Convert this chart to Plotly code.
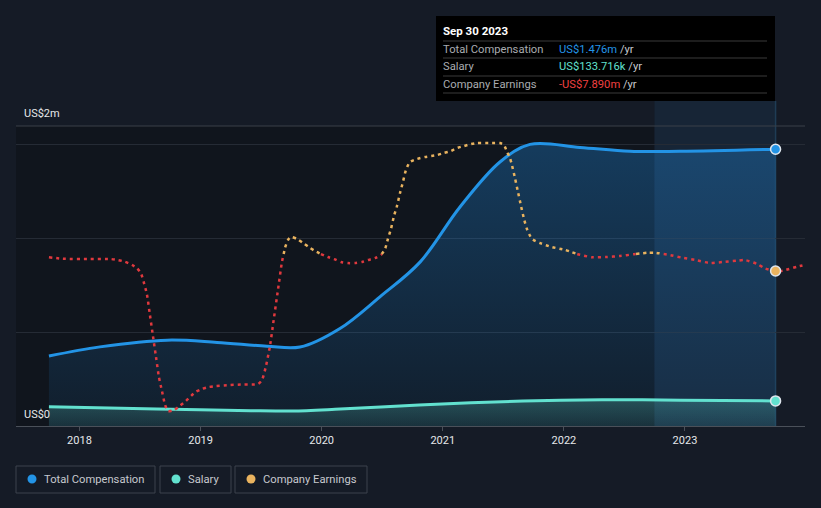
import plotly.graph_objects as go

# ---------------- data ----------------
# x positions are decimal years
comp_t = [2017.748, 2018.169, 2018.723, 2019.136, 2019.548, 2019.821, 2020.151,
          2020.481, 2020.812, 2021.142, 2021.472, 2021.720, 2022.133, 2022.546,
          2022.959, 2023.748]
comp_v = [0.373, 0.422, 0.458, 0.446, 0.426, 0.421, 0.520,
          0.689, 0.874, 1.168, 1.408, 1.502, 1.486, 1.465,
          1.465, 1.476]  # US$m

salary_t = [2017.748, 2018.640, 2019.416, 2019.763, 2020.110, 2020.804, 2021.663,
            2022.315, 2022.967, 2023.748]
salary_v = [0.103, 0.091, 0.082, 0.080, 0.089, 0.112, 0.133, 0.140, 0.138, 0.1337]  # US$m

earn_t = [2017.748, 2017.864, 2018.087, 2018.252, 2018.318, 2018.376, 2018.434, 2018.475,
          2018.508, 2018.533, 2018.557, 2018.582, 2018.607, 2018.632, 2018.656, 2018.681,
          2018.706, 2018.731, 2018.780, 2018.830, 2018.879, 2018.921, 2018.962, 2019.012,
          2019.069, 2019.127, 2019.243, 2019.358, 2019.474, 2019.507, 2019.540, 2019.573,
          2019.606, 2019.639, 2019.672, 2019.697, 2019.722, 2019.747, 2019.796, 2019.846,
          2019.895, 2019.945, 2019.994, 2020.052, 2020.102, 2020.159, 2020.217, 2020.275,
          2020.333, 2020.382, 2020.440, 2020.490, 2020.523, 2020.547, 2020.572, 2020.597,
          2020.622, 2020.647, 2020.671, 2020.696, 2020.729, 2020.787, 2020.853, 2020.952,
          2021.010, 2021.068, 2021.117, 2021.175, 2021.233, 2021.282, 2021.406, 2021.472,
          2021.505, 2021.530, 2021.555, 2021.571, 2021.596, 2021.621, 2021.646, 2021.671,
          2021.695, 2021.737, 2021.803, 2021.902, 2022.009, 2022.116, 2022.232, 2022.348,
          2022.463, 2022.579, 2022.694, 2022.752, 2022.860, 2022.975, 2023.091, 2023.206,
          2023.314, 2023.429, 2023.495, 2023.595, 2023.661, 2023.748, 2023.809, 2023.925,
          2024.000]
earn_v = [-1.5, -2.2, -2.3, -2.3, -2.8, -3.6, -5.0, -6.6,
          -9.0, -13.5, -18.7, -28.3, -38.1, -47.7, -57.0, -63.5,
          -69.8, -72.9, -72.4, -70.4, -68.2, -65.9, -63.9, -62.6,
          -61.7, -61.3, -60.8, -60.5, -60.3, -58.5, -52.0, -42.7,
          -29.7, -16.7, -3.7, 2.8, 6.5, 7.9, 7.0, 5.1,
          3.2, 1.4, 0.0, -1.4, -2.3, -3.7, -4.2, -4.2,
          -3.7, -2.8, -1.9, -0.5, 2.3, 7.0, 11.6, 17.6,
          22.3, 28.3, 33.4, 39.0, 42.7, 44.1, 45.0, 45.9,
          46.9, 47.8, 49.2, 50.1, 51.0, 51.5, 51.5, 51.5,
          50.6, 47.5, 44.5, 41.3, 35.3, 28.8, 22.3, 16.2,
          11.6, 7.0, 5.1, 3.2, 1.9, -0.1, -1.5, -1.4,
          -0.9, -0.1, 0.6, 0.6, -0.3, -1.7, -2.8, -4.2,
          -3.7, -3.1, -2.8, -4.6, -6.7, -7.89, -7.7, -5.9,
          -4.9]  # US$m

tick_years = [2018, 2019, 2020, 2021, 2022, 2023]
tick_labels = ["2018", "2019", "2020", "2021", "2022", "2023"]

last_t = 2023.748
band_start = 2022.748
tooltip_date = "Sep 30 2023"
tooltip_comp = "US$1.476m"
tooltip_salary = "US$133.716k"
tooltip_earn = "-US$7.890m"

# ---------------- styling ----------------
BG = "#151b26"
BLUE = "#2394e6"
TEAL = "#62e1cf"
ORANGE = "#e9b35f"
RED = "#e0393e"
FONT = "Roboto"
FS = 11.2


def split_sign(xs, ys):
    px, pyv, nx, nyv = [], [], [], []
    for i in range(len(xs)):
        if i > 0 and (ys[i - 1] >= 0) != (ys[i] >= 0):
            t = ys[i - 1] / (ys[i - 1] - ys[i])
            xc = xs[i - 1] + t * (xs[i] - xs[i - 1])
            px.append(xc); pyv.append(0.0)
            nx.append(xc); nyv.append(0.0)
            if ys[i] >= 0:
                nx.append(None); nyv.append(None)
            else:
                px.append(None); pyv.append(None)
        if ys[i] >= 0:
            px.append(xs[i]); pyv.append(ys[i])
        else:
            nx.append(xs[i]); nyv.append(ys[i])
    return px, pyv, nx, nyv


pos_x, pos_y, neg_x, neg_y = split_sign(earn_t, earn_v)

fig = go.Figure()

fig.add_trace(go.Scatter(
    x=comp_t, y=comp_v, mode="lines", line=dict(color=BLUE, width=3, shape="spline", smoothing=1.0),
    fill="tozeroy",
    fillgradient=dict(type="vertical",
                      colorscale=[[0, "rgba(33,150,243,0.07)"], [1, "rgba(33,150,243,0.30)"]]),
    hoverinfo="skip", showlegend=False))

fig.add_trace(go.Scatter(
    x=salary_t, y=salary_v, mode="lines", line=dict(color=TEAL, width=3, shape="spline", smoothing=0.8),
    fill="tozeroy",
    fillgradient=dict(type="vertical",
                      colorscale=[[0, "rgba(98,225,207,0.10)"], [1, "rgba(98,225,207,0.25)"]]),
    hoverinfo="skip", showlegend=False))

fig.add_trace(go.Scatter(
    x=neg_x, y=neg_y, yaxis="y2", mode="lines",
    line=dict(color=RED, width=2.5, dash="3px,4px", shape="spline", smoothing=0.6),
    hoverinfo="skip", showlegend=False, connectgaps=False))
fig.add_trace(go.Scatter(
    x=pos_x, y=pos_y, yaxis="y2", mode="lines",
    line=dict(color=ORANGE, width=2.5, dash="3px,4px", shape="spline", smoothing=0.6),
    hoverinfo="skip", showlegend=False, connectgaps=False))

# end markers
fig.add_trace(go.Scatter(x=[last_t], y=[comp_v[-1]], mode="markers",
                         marker=dict(color=BLUE, size=10, line=dict(color="#dfe6ee", width=1.5)),
                         hoverinfo="skip", showlegend=False))
fig.add_trace(go.Scatter(x=[last_t], y=[salary_v[-1]], mode="markers",
                         marker=dict(color=TEAL, size=10, line=dict(color="#dfe6ee", width=1.5)),
                         hoverinfo="skip", showlegend=False))
fig.add_trace(go.Scatter(x=[last_t], y=[earn_v[earn_t.index(last_t)]], yaxis="y2", mode="markers",
                         marker=dict(color=ORANGE, size=10, line=dict(color="#dfe6ee", width=1.5)),
                         hoverinfo="skip", showlegend=False))

# layout helpers (pixel -> paper)
L, R, T, B = 16, 805, 126, 426


def X(p):
    return (p - L) / (R - L)


def Y(p):
    return (B - p) / (B - T)


shapes = []
# dark area before highlight band
shapes.append(dict(type="rect", xref="x", yref="paper", x0=2017.476, x1=band_start, y0=0, y1=1,
                   fillcolor="#10151d", line=dict(width=0), layer="below"))
# highlight band (last year)
shapes.append(dict(type="rect", xref="x", yref="paper", x0=band_start, x1=last_t, y0=0, y1=Y(101),
                   fillcolor="#172536", line=dict(width=0), layer="below"))
# hover line
shapes.append(dict(type="line", xref="x", yref="paper", x0=last_t, x1=last_t, y0=0, y1=Y(101),
                   line=dict(color="#1f3c55", width=1.5), layer="below"))
# top line
shapes.append(dict(type="line", xref="paper", yref="paper", x0=0, x1=1, y0=1, y1=1,
                   line=dict(color="#3a4049", width=1)))

# tooltip
shapes.append(dict(type="rect", xref="paper", yref="paper", x0=X(436), x1=X(775), y0=Y(101), y1=Y(16),
                   fillcolor="#000000", line=dict(width=0)))
for sy in [41, 58, 76, 93]:
    shapes.append(dict(type="line", xref="paper", yref="paper", x0=X(443), x1=X(767), y0=Y(sy), y1=Y(sy),
                       line=dict(color="#3a3a3a", width=1)))

annotations = []
annotations.append(dict(xref="paper", yref="paper", x=X(441), y=Y(31), xanchor="left", yanchor="middle",
                        text="<b>" + tooltip_date + "</b>", showarrow=False,
                        font=dict(family=FONT, size=FS + 0.3, color="#ffffff")))
rows = [("Total Compensation", tooltip_comp, BLUE, 49),
        ("Salary", tooltip_salary, TEAL, 66),
        ("Company Earnings", tooltip_earn, "#f04040", 84)]
for lab, val, col, ry in rows:
    annotations.append(dict(xref="paper", yref="paper", x=X(441), y=Y(ry), xanchor="left", yanchor="middle",
                            text=lab, showarrow=False, font=dict(family=FONT, size=FS, color="#a9acb0")))
    annotations.append(dict(xref="paper", yref="paper", x=X(557), y=Y(ry), xanchor="left", yanchor="middle",
                            text="<span style='color:%s'>%s</span> /yr" % (col, val), showarrow=False,
                            font=dict(family=FONT, size=FS, color="#c8cbcf")))

# y labels
annotations.append(dict(xref="paper", yref="paper", x=X(22), y=Y(114), xanchor="left", yanchor="middle",
                        text="US$2m", showarrow=False, font=dict(family=FONT, size=11, color="#e6e8ea")))
annotations.append(dict(xref="paper", yref="paper", x=X(22), y=Y(414), xanchor="left", yanchor="middle",
                        text="US$0", showarrow=False, font=dict(family=FONT, size=11, color="#e6e8ea")))

# legend
legend_items = [("Total Compensation", BLUE, 16, 155),
                ("Salary", TEAL, 160, 231),
                ("Company Earnings", ORANGE, 235, 367)]
for name, col, x0, x1 in legend_items:
    shapes.append(dict(type="rect", xref="paper", yref="paper", x0=X(x0), x1=X(x1), y0=Y(493), y1=Y(466),
                       fillcolor="rgba(0,0,0,0)", line=dict(color="#3c424c", width=1)))
    cx = x0 + 16
    shapes.append(dict(type="circle", xref="paper", yref="paper", x0=X(cx - 4.5), x1=X(cx + 4.5),
                       y0=Y(479 + 4.5), y1=Y(479 - 4.5), fillcolor=col, line=dict(width=0)))
    annotations.append(dict(xref="paper", yref="paper", x=X(x0 + 26), y=Y(479.5), xanchor="left",
                            yanchor="middle", text=name, showarrow=False,
                            font=dict(family=FONT, size=FS, color="#c6c9ce")))

fig.update_layout(
    width=821, height=508,
    margin=dict(l=L, r=821 - R, t=T, b=508 - B),
    paper_bgcolor=BG, plot_bgcolor=BG,
    showlegend=False,
    shapes=shapes, annotations=annotations,
    font=dict(family=FONT, color="#e6e8ea"),
    xaxis=dict(range=[2017.476, 2023.991], tickvals=tick_years, ticktext=tick_labels,
               showgrid=False, zeroline=False, showline=True, linecolor="#4a5059", linewidth=1,
               ticks="outside", ticklen=4, tickcolor="#4a5059",
               tickfont=dict(family=FONT, size=11, color="#e6e8ea")),
    yaxis=dict(range=[0, 1.6], tickvals=[0.5, 1.0, 1.5], showticklabels=False,
               showgrid=True, gridcolor="#252b35", gridwidth=1, zeroline=False, fixedrange=True),
    yaxis2=dict(range=[-79.8, 59.4], overlaying="y", visible=False, showgrid=False, zeroline=False),
    hovermode=False,
)

fig.write_html("out.html", config={"displayModeBar": False},
               post_script="document.body.style.margin='0';document.body.style.background='%s';" % BG)
